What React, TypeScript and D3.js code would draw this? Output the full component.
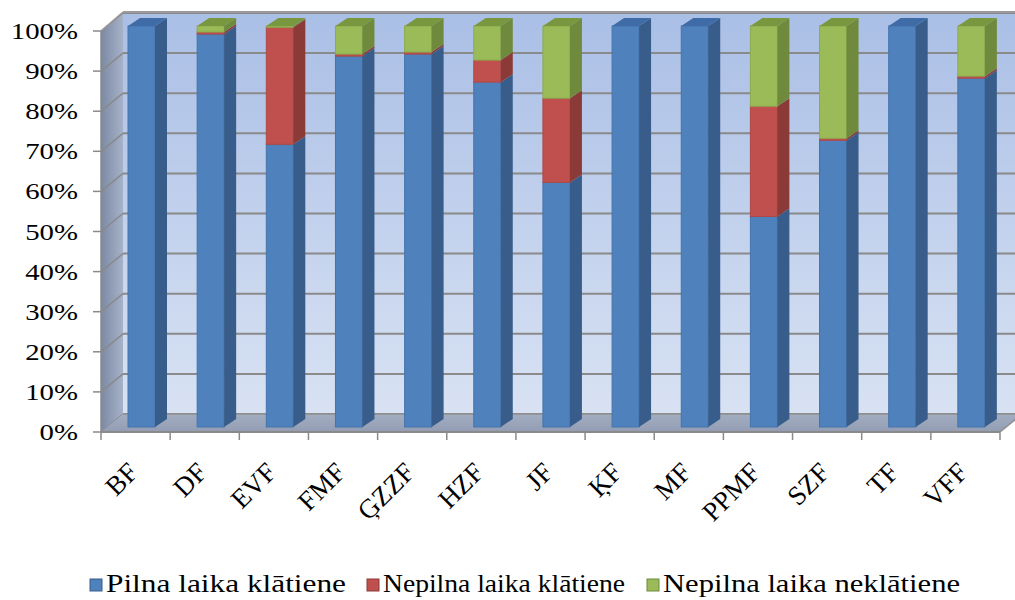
import React from "react";
import * as d3 from "d3";

const categories = ["BF", "DF", "EVF", "FMF", "ĢZZF", "HZF", "JF", "ĶF", "MF", "PPMF", "SZF", "TF", "VFF"];
const pilnaKlatiene = [100, 98, 70.5, 92.5, 93, 86, 61, 100, 100, 52.5, 71.5, 100, 87];
const nepilnaKlatiene = [0, 0.5, 29.2, 0.5, 0.5, 5.5, 21, 0, 0, 27.5, 0.5, 0, 0.5];
const nepilnaNeklatiene = [0, 1.5, 0.3, 7, 6.5, 8.5, 18, 0, 0, 20, 28, 0, 12.5];
const yTicks = [0, 10, 20, 30, 40, 50, 60, 70, 80, 90, 100];
const seriesNames = ["Pilna laika klātiene", "Nepilna laika klātiene", "Nepilna laika neklātiene"];

const palette = [
  { front: "#4f81bd", side: "#385d8a", top: "#3f6ca6", stroke: "#4474ad" },
  { front: "#c0504d", side: "#8b3a38", top: "#a64542", stroke: "#b04845" },
  { front: "#9bbb59", side: "#6f8a3c", top: "#78973e", stroke: "#8cab4e" },
];

const W = 1015, H = 600;
const X0 = 101, X1 = 1000;
const DX = 22, DY = -18; // full depth
const BDX = 12, BDY = -8; // bar depth

export default function App() {
  const x = d3.scaleBand<string>().domain(categories).range([X0, X1]).padding(0);
  const yFront = d3.scaleLinear().domain([0, 100]).range([432, 31]);
  const yBack = d3.scaleLinear().domain([0, 100]).range([432 + DY, 31 + DY]);
  const yBar = d3.scaleLinear().domain([0, 100]).range([427, 26]);
  const bw = x.bandwidth();
  const barW = 27;
  const barOff = 27;

  const series = [pilnaKlatiene, nepilnaKlatiene, nepilnaNeklatiene];
  const rows = categories.map((c, i) => {
    const o: any = { cat: c };
    series.forEach((s, k) => (o["s" + k] = s[i]));
    return o;
  });
  const stack = d3.stack().keys(["s0", "s1", "s2"])(rows as any);

  const pts = (arr: number[][]) => arr.map((p) => p.join(",")).join(" ");

  return (
    <svg width={W} height={H} style={{ position: "absolute", left: 0, top: 0, background: "#fff", fontFamily: '"Liberation Serif", "Times New Roman", Times, serif' }}>
      <defs>
        <linearGradient id="backWall" x1="0" y1="0" x2="0" y2="1">
          <stop offset="0" stopColor="#aabfe6" />
          <stop offset="1" stopColor="#d8e2f3" />
        </linearGradient>
        <linearGradient id="sideWall" x1="0" y1="0" x2="1" y2="0">
          <stop offset="0" stopColor="#7c89a3" />
          <stop offset="1" stopColor="#a6b2c8" />
        </linearGradient>
        <linearGradient id="floor" x1="0" y1="0" x2="0" y2="1">
          <stop offset="0" stopColor="#a3adc2" />
          <stop offset="1" stopColor="#929db3" />
        </linearGradient>
      </defs>

      {/* back wall */}
      <rect x={X0 + DX} y={yBack(100)} width={W - (X0 + DX)} height={yBack(0) - yBack(100)} fill="url(#backWall)" />
      {/* side wall */}
      <polygon points={pts([[X0, yFront(0)], [X0, yFront(100)], [X0 + DX, yBack(100)], [X0 + DX, yBack(0)]])} fill="url(#sideWall)" />
      {/* gridlines */}
      {yTicks.map((t) => (
        <g key={"g" + t}>
          <line x1={X0 + DX} x2={W} y1={yBack(t)} y2={yBack(t)} stroke="#8a8a8a" strokeWidth={2} />
          <line x1={X0} x2={X0 + DX} y1={yFront(t)} y2={yBack(t)} stroke="#8a8a8a" strokeWidth={1.5} />
        </g>
      ))}
      <line x1={X0 + DX} x2={W} y1={yBack(100) - 1} y2={yBack(100) - 1} stroke="#9a9a9a" strokeWidth={2} />
      <line x1={X0} x2={X0 + DX} y1={yFront(100)} y2={yBack(100) - 1} stroke="#9a9a9a" strokeWidth={1.5} />
      {/* floor */}
      <polygon points={pts([[X0, yFront(0)], [X1, yFront(0)], [X1 + DX, yBack(0)], [X0 + DX, yBack(0)]])} fill="url(#floor)" />
      <line x1={X0 + DX} x2={W} y1={yBack(0)} y2={yBack(0)} stroke="#8f8f8f" strokeWidth={1.5} />
      <line x1={X1} x2={X1 + DX} y1={yFront(0)} y2={yBack(0)} stroke="#8f8f8f" strokeWidth={1.5} />

      {/* bars */}
      {categories.map((c, i) => {
        const xl = (x(c) as number) + barOff;
        const xr = xl + barW;
        let topK = 0;
        stack.forEach((s, k) => { if (s[i][1] - s[i][0] > 0) topK = k; });
        const yt = yBar(stack[2][i][1]);
        return (
          <g key={c}>
            {stack.map((s, k) => {
              const v0 = s[i][0], v1 = s[i][1];
              if (v1 - v0 <= 0) return null;
              const y0 = yBar(v0), y1 = yBar(v1);
              const p = palette[k];
              return (
                <g key={k}>
                  <rect x={xl} y={y1} width={barW} height={y0 - y1} fill={p.front} stroke={p.stroke} strokeWidth={1} />
                  <polygon points={pts([[xr, y0], [xr + BDX, y0 + BDY], [xr + BDX, y1 + BDY], [xr, y1]])} fill={p.side} />
                </g>
              );
            })}
            <polygon points={pts([[xl, yt], [xl + BDX, yt + BDY], [xr + BDX, yt + BDY], [xr, yt]])} fill={palette[topK].top} />
          </g>
        );
      })}

      {/* axes */}
      <line x1={X0} x2={X0} y1={yFront(0)} y2={yFront(100)} stroke="#8a8a8a" strokeWidth={1.5} />
      <line x1={X0} x2={X1} y1={yFront(0)} y2={yFront(0)} stroke="#8a8a8a" strokeWidth={2} />
      {yTicks.map((t) => (
        <g key={"t" + t}>
          <line x1={93} x2={X0} y1={yFront(t)} y2={yFront(t)} stroke="#8a8a8a" strokeWidth={1.5} />
          <text transform={`translate(78,${yFront(t) + 8}) scale(1.2,1)`} textAnchor="end" fontSize={24} fill="#000">
            {t}%
          </text>
        </g>
      ))}
      {categories.concat([""]).map((c, i) => {
        const xx = X0 + i * bw;
        return <line key={"xt" + i} x1={xx} x2={xx} y1={yFront(0)} y2={yFront(0) + 8} stroke="#8a8a8a" strokeWidth={1.5} />;
      })}
      {categories.map((c) => {
        const cx = (x(c) as number) + bw / 2;
        return (
          <text key={"xl" + c} transform={`translate(${cx + 4},${474}) rotate(-45)`} textAnchor="end" fontSize={27} fill="#000">
            {c}
          </text>
        );
      })}

      {/* legend */}
      {seriesNames.map((n, k) => {
        const lx = [90, 367, 647][k];
        const tl = [240, 242, 297][k];
        return (
          <g key={"lg" + k}>
            <rect x={lx} y={579} width={12} height={12} fill={palette[k].front} stroke={palette[k].side} strokeWidth={1} />
            <text x={lx + 16} y={592} fontSize={25} textLength={tl} lengthAdjust="spacingAndGlyphs" fill="#000">{n}</text>
          </g>
        );
      })}
    </svg>
  );
}
